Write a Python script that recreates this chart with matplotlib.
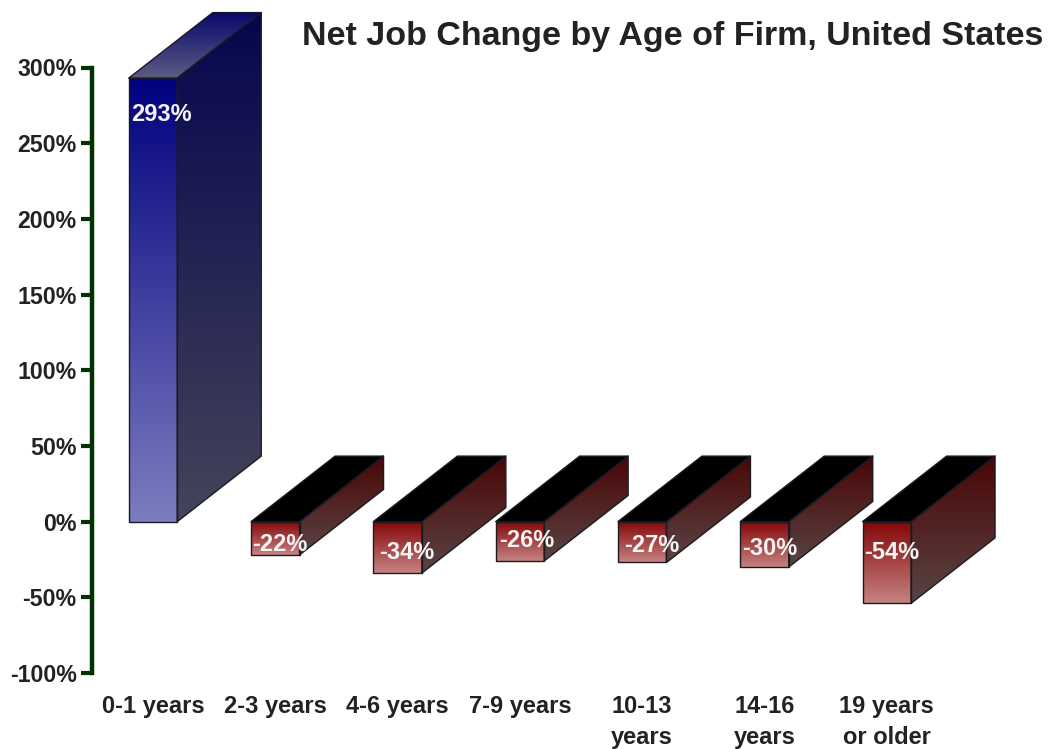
import numpy as np
import matplotlib
matplotlib.use("Agg")
import matplotlib.pyplot as plt
from matplotlib.colors import LinearSegmentedColormap
from matplotlib.patches import Polygon

categories = ["0-1 years", "2-3 years", "4-6 years", "7-9 years",
              "10-13\nyears", "14-16\nyears", "19 years\nor older"]
values = [293, -22, -34, -26, -27, -30, -54]
labels = ["293%", "-22%", "-34%", "-26%", "-27%", "-30%", "-54%"]
yticks = [-100, -50, 0, 50, 100, 150, 200, 250, 300]

plt.rcParams["font.family"] = ["Liberation Sans", "DejaVu Sans"]
plt.rcParams["font.weight"] = "bold"

W, H = 1048, 749
LEFT, TOP, BOTTOM = 92, 67.5, 673
PX_X = 122.3  # pixels per category
PX_Y = (BOTTOM - TOP) / 400  # pixels per percent

bar_w = 48.5 / PX_X
depth_x = 84 / PX_X
depth_y = 65.5 / PX_Y

# gradient colours, (top, bottom) of each face
BLUE = {"front": ("#02027f", "#7c7cc0"), "side": ("#06064f", "#44445a"),
        "top": ("#08086c", "#5c5c84")}
RED = {"front": ("#840606", "#c68282"), "side": ("#4a0606", "#5a4444"),
       "top": ("#000000", "#000000")}


def rgb(c):
    return matplotlib.colors.to_rgb(c)


def face(ax, pts, colors):
    pts = np.array(pts)
    cmap = LinearSegmentedColormap.from_list("f", [rgb(colors[0]), rgb(colors[1])])
    grad = np.linspace(0, 1, 128).reshape(-1, 1)
    extent = [pts[:, 0].min(), pts[:, 0].max(), pts[:, 1].min(), pts[:, 1].max()]
    im = ax.imshow(grad, cmap=cmap, extent=extent, origin="upper", aspect="auto",
                   interpolation="bilinear", zorder=2)
    poly = Polygon(pts, closed=True, fc="none", ec="#1a1a22", lw=1.0, zorder=3,
                   clip_on=False, joinstyle="round")
    ax.add_patch(poly)
    im.set_clip_path(poly)
    # the tall bar pokes out above the axes, so drop the axes clip box
    im.set_clip_box(ax.figure.bbox)


fig = plt.figure(figsize=(W / 100, H / 100), dpi=100)
ax = fig.add_axes([LEFT / W, (H - BOTTOM) / H, (W - LEFT) / W, (BOTTOM - TOP) / H])

for i, v in enumerate(values):
    l, r = i - bar_w / 2, i + bar_w / 2
    top, bot = max(v, 0), min(v, 0)
    pal = BLUE if v > 0 else RED
    face(ax, [(l, bot), (r, bot), (r, top), (l, top)], pal["front"])
    face(ax, [(r, bot), (r + depth_x, bot + depth_y), (r + depth_x, top + depth_y), (r, top)], pal["side"])
    face(ax, [(l, top), (r, top), (r + depth_x, top + depth_y), (l + depth_x, top + depth_y)], pal["top"])

# labels sit at slightly different heights in the original
label_y = [269, -15, -20.5, -12.5, -15.5, -17.5, -20.5]
label_dx = [2, 1.5, 5.5, 3, 6, 2, 2]
for i, (txt, ly, dx) in enumerate(zip(labels, label_y, label_dx)):
    ax.text(i - bar_w / 2 + dx / PX_X, ly, txt, color="#f4f4f4", fontsize=17,
            ha="left", va="center", zorder=5, clip_on=False)

ax.set_xlim((LEFT - 153) / PX_X, (W - 153) / PX_X)
ax.set_ylim(-100, 300)
ax.set_xticks(range(len(categories)))
ax.set_xticklabels(categories, fontsize=17, color="#222222", linespacing=1.42)
ax.set_yticks(yticks)
ax.set_yticklabels([f"{t}%" for t in yticks], fontsize=16.7, color="#222222")
ax.tick_params(axis="x", length=0, pad=16)
ax.tick_params(axis="y", length=8, width=3, color="#003300", pad=3)
for s in ["top", "right", "bottom"]:
    ax.spines[s].set_visible(False)
ax.spines["left"].set_color("#003300")
ax.spines["left"].set_linewidth(3.2)
ax.patch.set_alpha(0)

fig.text(1043 / W, 1 - 37 / H, "Net Job Change by Age of Firm, United States",
         ha="right", va="center", fontsize=24.5, color="#222222")

fig.savefig("out.png", dpi=100)
